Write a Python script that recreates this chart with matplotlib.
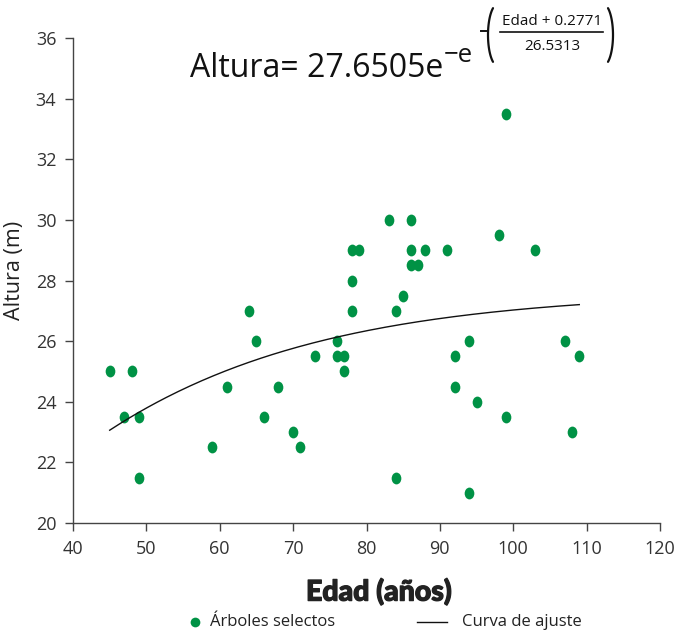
import numpy as np
import matplotlib
matplotlib.use("Agg")
import matplotlib.pyplot as plt
import matplotlib.patheffects as pe
from matplotlib.path import Path
from matplotlib.transforms import Affine2D
from matplotlib.lines import Line2D

# ---- data ----
edad = [45, 47, 48, 49, 49, 59, 61, 64, 65, 66, 68, 70, 71, 73, 76, 76, 77, 77,
        78, 79, 78, 78, 83, 84, 85, 84, 86, 86, 86, 87, 88, 91, 92, 92, 94, 94,
        95, 98, 99, 99, 103, 107, 108, 109]
altura = [25, 23.5, 25, 23.5, 21.5, 22.5, 24.5, 27, 26, 23.5, 24.5, 23, 22.5, 25.5,
          26, 25.5, 25.5, 25, 29, 29, 28, 27, 30, 27, 27.5, 21.5, 30, 29, 28.5, 28.5,
          29, 29, 25.5, 24.5, 26, 21, 24, 29.5, 33.5, 23.5, 29, 26, 23, 25.5]
# fitted Gompertz parameters (shown in the chart)
fit_a, fit_b, fit_c = 27.6505, 0.2771, 26.5313
fit_range = [45, 109]
xticks = [40, 50, 60, 70, 80, 90, 100, 110, 120]
yticks = [20, 22, 24, 26, 28, 30, 32, 34, 36]

GREEN = "#009245"
FONT = ["Open Sans", "DejaVu Sans"]
plt.rcParams['font.family'] = FONT

W, H = 681, 636
fig = plt.figure(figsize=(W / 100, H / 100), dpi=100)
ax = fig.add_axes([73 / W, 1 - 523 / H, (660 - 73) / W, (523 - 38) / H])

ell = Path.unit_circle().transformed(Affine2D().scale(0.82, 1.0))
ax.plot(edad, altura, linestyle="none", marker=ell, markersize=8.5,
        color=GREEN, markeredgewidth=0, clip_on=False)

xf = np.linspace(fit_range[0], fit_range[1], 200)
yf = fit_a * np.exp(-np.exp(-(xf + fit_b) / fit_c))
ax.plot(xf, yf, color="#111111", lw=1.0)

ax.set_xlim(40, 120)
ax.set_ylim(20, 36)
ax.set_xticks(xticks)
ax.set_yticks(yticks)
for s in ["top", "right"]:
    ax.spines[s].set_visible(False)
for s in ["left", "bottom"]:
    ax.spines[s].set_color("#444444")
    ax.spines[s].set_linewidth(1.0)
ax.tick_params(direction="out", length=6, width=1.0, color="#444444",
               labelsize=13, labelcolor="#333333", pad=6)

ax.set_ylabel("Altura (m)", fontsize=15.5, color="#222222")
ax.yaxis.set_label_coords(-0.082, 0.52)

def fx(px):
    return px / W

def fy(py):
    return 1 - py / H

# x label and legend
fig.text(fx(379), fy(592), "Edad (años)", fontsize=20.5, fontweight=900,
         family=["Lato", "DejaVu Sans"], ha="center", va="center", color="#222222",
         path_effects=[pe.withStroke(linewidth=0.9, foreground="#222222")])
fig.add_artist(Line2D([fx(195)], [fy(622)], marker="o", markersize=7,
                      color=GREEN, markeredgewidth=0, linestyle="none"))
fig.text(fx(210), fy(622), "Árboles selectos", fontsize=12, ha="left",
         va="center", color="#222222")
fig.add_artist(Line2D([fx(417), fx(447)], [fy(622), fy(622)], color="#111111", lw=1))
fig.text(fx(462), fy(622), "Curva de ajuste", fontsize=12, ha="left",
         va="center", color="#222222")

# equation
fig.text(fx(190), fy(77), "Altura= 27.6505e", fontsize=23, ha="left",
         va="baseline", color="#111111")
fig.text(fx(444), fy(62), "\u2212e", fontsize=18.5, ha="left", va="baseline",
         color="#111111")
fig.add_artist(Line2D([fx(481), fx(486)], [fy(31), fy(31)], color="#111111", lw=1.4))

def paren(cx, cy, a, b, t0, t1):
    t = np.radians(np.linspace(t0, t1, 40))
    xs = [fx(cx + a * np.cos(v)) for v in t]
    ys = [fy(cy - b * np.sin(v)) for v in t]
    fig.add_artist(Line2D(xs, ys, color="#111111", lw=1.6,
                          solid_capstyle="round"))

paren(498, 35, 10, 31, 120, 240)
paren(603, 35, 10, 31, -60, 60)
fig.text(fx(552), fy(21.5), "Edad + 0.2771", fontsize=11, ha="center",
         va="center", color="#111111")
fig.add_artist(Line2D([fx(500), fx(603)], [fy(32), fy(32)], color="#111111", lw=1.2))
fig.text(fx(552), fy(47), "26.5313", fontsize=11, ha="center",
         va="center", color="#111111")

fig.savefig("out.png", dpi=100)
